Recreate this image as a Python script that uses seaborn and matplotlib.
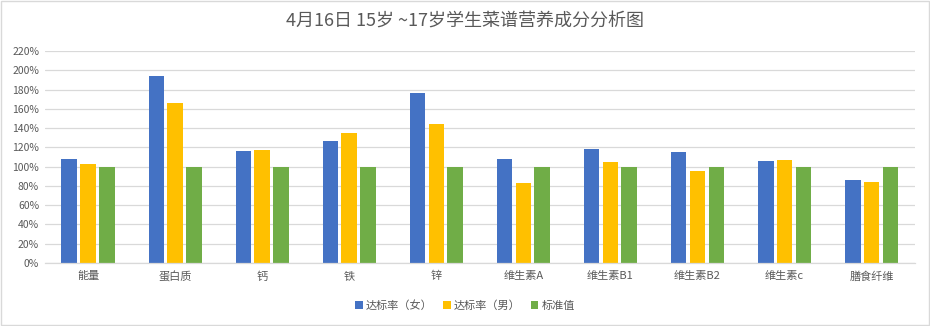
import matplotlib
matplotlib.use("Agg")
import matplotlib.pyplot as plt
import seaborn as sns
import pandas as pd
from matplotlib.ticker import FuncFormatter, MultipleLocator
from matplotlib.patches import Rectangle

categories = ["能量", "蛋白质", "钙", "铁", "锌", "维生素A", "维生素B1", "维生素B2", "维生素c", "膳食纤维"]
series_names = ["达标率（女）", "达标率（男）", "标准值"]
female = [108, 194, 116, 127, 177, 108, 118, 115, 106, 86]
male = [103, 166, 117, 135, 144, 83, 105, 95, 107, 84]
standard = [100, 100, 100, 100, 100, 100, 100, 100, 100, 100]
colors = ["#4472C4", "#FFC000", "#70AD47"]

rows = []
for name, vals in zip(series_names, [female, male, standard]):
    for c, v in zip(categories, vals):
        rows.append({"category": c, "series": name, "value": v})
df = pd.DataFrame(rows)

sns.set_theme(style="white")
plt.rcParams["font.family"] = ["Noto Sans CJK SC", "DejaVu Sans"]

fig = plt.figure(figsize=(9.3, 3.26), dpi=100)
ax = fig.add_axes([0.048, 0.194, 0.936, 0.649])
sns.barplot(data=df, x="category", y="value", hue="series", palette=colors,
            order=categories, hue_order=series_names, width=0.65, gap=0.17,
            saturation=1, linewidth=0, ax=ax, legend=True)

ax.set_ylim(0, 220)
ax.yaxis.set_major_locator(MultipleLocator(20))
ax.yaxis.set_major_formatter(FuncFormatter(lambda v, p: f"{int(round(v))}%"))
ax.set_xlim(-0.5, len(categories) - 0.5)
ax.grid(axis="y", color="#D9D9D9", linewidth=0.9)
ax.set_axisbelow(True)
for s in ["top", "right", "left"]:
    ax.spines[s].set_visible(False)
ax.spines["bottom"].set_color("#D9D9D9")
ax.spines["bottom"].set_linewidth(0.9)
ax.set_xlabel("")
ax.set_ylabel("")
ax.tick_params(axis="y", labelsize=7.5, colors="#595959", length=0, pad=4)
ax.tick_params(axis="x", labelsize=8, colors="#595959", length=0, pad=6)

ax.legend_.remove()
handles, labels = ax.get_legend_handles_labels()
leg = fig.legend(handles, labels, loc="center", bbox_to_anchor=(0.5, 0.063), ncol=3,
                 frameon=False, fontsize=8, handlelength=0.7, handleheight=0.7,
                 handletextpad=0.3, columnspacing=0.9)
for t in leg.get_texts():
    t.set_color("#595959")

fig.text(0.5, 0.935, "4月16日 15岁 ~17岁学生菜谱营养成分分析图", ha="center", va="center",
         fontsize=13, color="#595959")

fig.patches.append(Rectangle((0.001, 0.002), 0.998, 0.996, transform=fig.transFigure,
                             fill=False, edgecolor="#D9D9D9", linewidth=1))

fig.savefig("out.png", dpi=100)
